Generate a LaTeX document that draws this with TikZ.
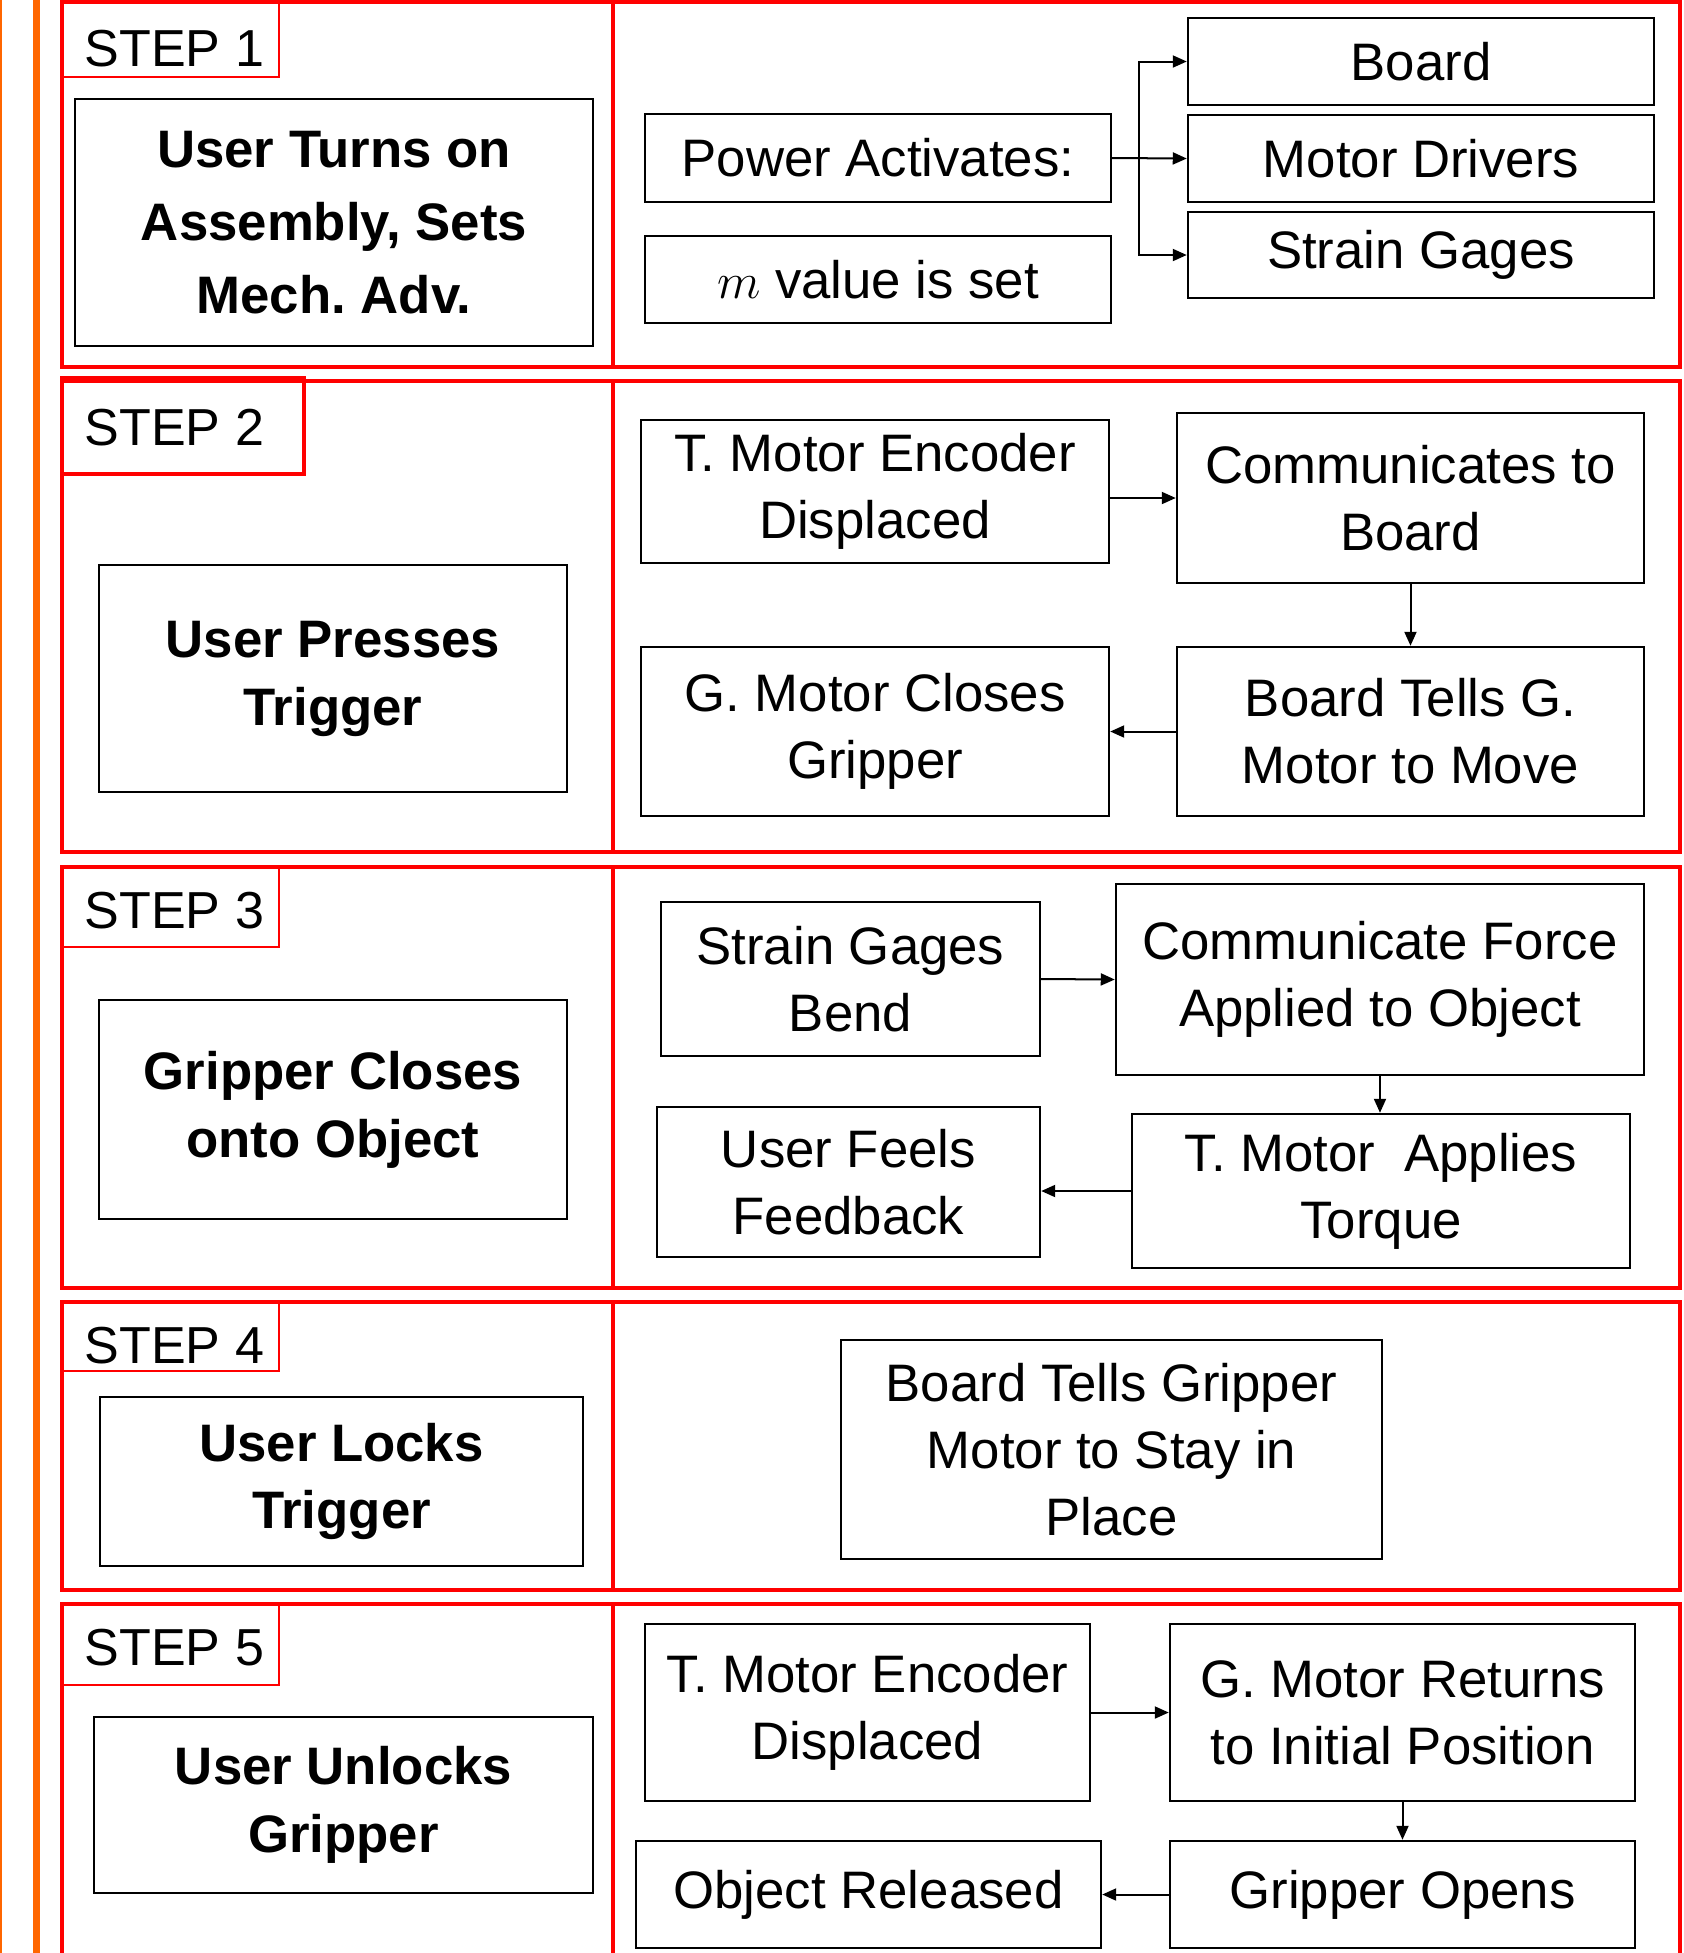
\documentclass[tikz,border=0pt]{standalone}
\usepackage{fontspec}
\setmainfont{Liberation Sans}
\usetikzlibrary{arrows.meta,calc}
\definecolor{pred}{HTML}{FF0000}
\definecolor{porange}{HTML}{FF6600}
\frenchspacing
\newcommand\diabox[7][blk]{\node[#1, minimum width={(#5-#3)*0.01cm}, minimum height={(#6-#4)*0.01cm}] (#2) at ({(#3+#5)/2},{(#4+#6)/2}) {#7};}
\begin{document}
\frenchspacing
\begin{tikzpicture}[x=0.01cm,y=-0.01cm,
  blk/.style={draw=black, line width=0.7pt, inner sep=0pt, align=center, font=\fontsize{15}{19.1}\selectfont},
  bld/.style={blk, font=\bfseries\fontsize{15}{19.3}\selectfont},
  bldwide/.style={blk, font=\bfseries\fontsize{15}{20.8}\selectfont},
  panel/.style={draw=pred, line width=1pt},
  steplab/.style={draw=pred, line width=0.45pt, inner sep=0pt},
  steplabthick/.style={draw=pred, line width=0.9pt, inner sep=0pt},
  steptxt/.style={inner sep=0pt, anchor=base west, font=\fontsize{14.8}{18}\selectfont},
  arr/.style={line width=0.57pt, -{Triangle[length=0.14cm,width=0.12cm]}},
]
\useasboundingbox (0,0) rectangle (1684,1953);
\clip (0,0) rectangle (1684,1953);
% orange margin lines
\draw[porange, line width=0.57pt] (0.5,0) -- (0.5,1953);
\draw[porange, line width=2pt] (36.5,0) -- (36.5,1953);
% panels
\draw[panel] (62,2) rectangle (1680,367);
\draw[panel] (613,2) -- (613,367);
\draw[panel] (62,381) rectangle (1680,852);
\draw[panel] (613,381) -- (613,852);
\draw[panel] (62,867) rectangle (1680,1288);
\draw[panel] (613,867) -- (613,1288);
\draw[panel] (62,1302) rectangle (1680,1590);
\draw[panel] (613,1302) -- (613,1590);
\draw[panel] (62,1604) rectangle (1680,2010);
\draw[panel] (613,1604) -- (613,2010);
% step labels
\diabox[steplab]{s1}{62}{2}{279}{77}{}
\node[steptxt] (s1t) at (84,66) {STEP 1};
\diabox[steplabthick]{s2}{62}{378}{304}{474}{}
\node[steptxt] (s2t) at (84,445) {STEP 2};
\diabox[steplab]{s3}{62}{867}{279}{947}{}
\node[steptxt] (s3t) at (84,928) {STEP 3};
\diabox[steplab]{s4}{62}{1302}{279}{1371}{}
\node[steptxt] (s4t) at (84,1363) {STEP 4};
\diabox[steplab]{s5}{62}{1604}{279}{1685}{}
\node[steptxt] (s5t) at (84,1665) {STEP 5};
% main boxes
\diabox[bldwide]{m1}{75}{99}{593}{346}{User Turns on\\Assembly, Sets\\Mech. Adv.}
\diabox[bld]{m2}{99}{565}{567}{792}{User Presses\\Trigger}
\diabox[bld]{m3}{99}{1000}{567}{1219}{Gripper Closes\\onto Object}
\diabox[bld]{m4}{100}{1397}{583}{1566}{User Locks\\Trigger}
\diabox[bld]{m5}{94}{1717}{593}{1893}{User Unlocks\\Gripper}
% step 1
\diabox{pa}{645}{114}{1111}{202}{Power Activates:}
\diabox{mv}{645}{236}{1111}{323}{$m$ value is set}
\diabox{brd}{1188}{18}{1654}{105}{Board}
\diabox{mdr}{1188}{115}{1654}{202}{Motor Drivers}
\diabox{sgs}{1188}{212}{1654}{298}{Strain Gages}
\coordinate (jn) at (1139,158);
\draw[arr] (pa.east) -- (mdr.west);
\draw[arr] (jn) |- (brd.west);
\draw[arr] (jn) |- (sgs.west);
% step 2
\diabox{tme}{641}{420}{1109}{563}{T. Motor Encoder\\Displaced}
\diabox{ctb}{1177}{413}{1644}{583}{Communicates to\\Board}
\diabox{btg}{1177}{647}{1644}{816}{Board Tells G.\\Motor to Move}
\diabox{gmc}{641}{647}{1109}{816}{G. Motor Closes\\Gripper}
\draw[arr] (ctb.west -| tme.east) -- (ctb.west);
\draw[arr] (ctb.south) -- (btg.north);
\draw[arr] (btg.west) -- (gmc.east);
% step 3
\diabox{sgb}{661}{902}{1040}{1056}{Strain Gages\\Bend}
\diabox{cfa}{1116}{884}{1644}{1075}{Communicate Force\\Applied to Object}
\diabox{tma}{1132}{1114}{1630}{1268}{T. Motor~ Applies\\Torque}
\diabox{uff}{657}{1107}{1040}{1257}{User Feels\\Feedback}
\draw[arr] (sgb.east) -- (cfa.west);
\draw[arr] (cfa.south) -- (cfa.south |- tma.north);
\draw[arr] (tma.west) -- (tma.west -| uff.east);
% step 4
\diabox{btgm}{841}{1340}{1382}{1559}{Board Tells Gripper\\Motor to Stay in\\Place}
% step 5
\diabox{tme5}{645}{1624}{1090}{1801}{T. Motor Encoder\\Displaced}
\diabox{gmr}{1170}{1624}{1635}{1801}{G. Motor Returns\\to Initial Position}
\diabox{gop}{1170}{1841}{1635}{1948}{Gripper Opens}
\diabox{orl}{636}{1841}{1101}{1948}{Object Released}
\draw[arr] (tme5.east) -- (gmr.west);
\draw[arr] (gmr.south) -- (gop.north);
\draw[arr] (gop.west) -- (orl.east);
\end{tikzpicture}
\end{document}
